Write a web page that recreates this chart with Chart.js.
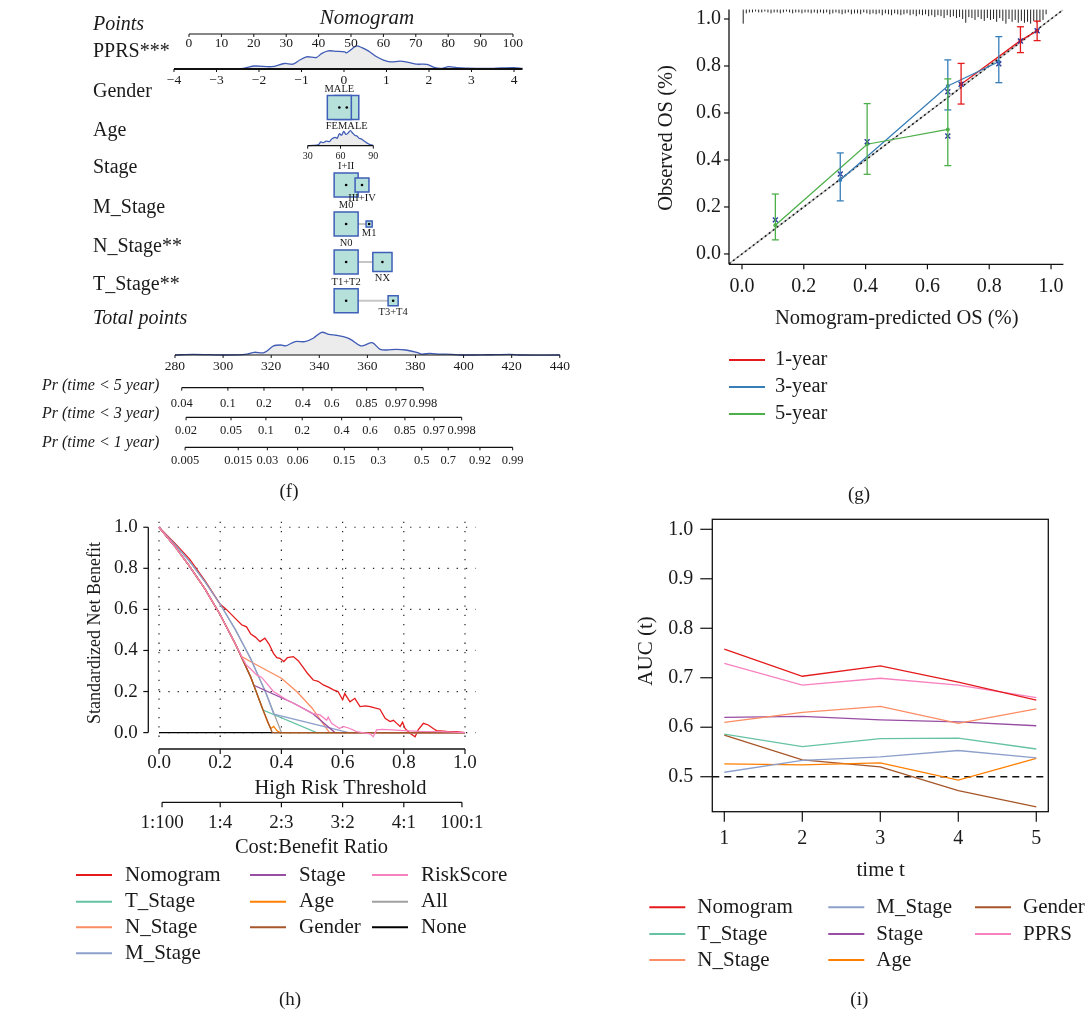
<!DOCTYPE html>
<html>
<head>
<meta charset="utf-8">
<title>Nomogram, calibration, decision curve and time-dependent AUC</title>
<script src="https://cdn.jsdelivr.net/npm/chart.js@4.4.1/dist/chart.umd.min.js"></script>
<style>
  html, body { margin: 0; padding: 0; background: #fff; }
  #page { position: relative; width: 1091px; height: 1010px; overflow: hidden; }
  canvas { position: absolute; }
</style>
</head>
<body>
<div id="page">
  <canvas id="nomogram" width="580" height="505" style="left:0;top:0"></canvas>
  <canvas id="calibration" width="511" height="505" style="left:580px;top:0"></canvas>
  <canvas id="dca" width="580" height="505" style="left:0;top:505px"></canvas>
  <canvas id="auc" width="511" height="505" style="left:580px;top:505px"></canvas>
</div>
<script>
const FONT = '"Liberation Serif", "Times New Roman", serif';

// ---------- (f) nomogram data ----------
const pointsTicks = [0, 10, 20, 30, 40, 50, 60, 70, 80, 90, 100];
const pprsTicks = [-4, -3, -2, -1, 0, 1, 2, 3, 4];
const pprsDensX = [-4, -3.6, -3.2, -2.76, -2.37, -2.1, -1.7, -1.4, -1.2, -1.04, -0.88, -0.65, -0.53, -0.37, -0.17, 0.02, 0.06, 0.18, 0.29, 0.42, 0.57, 0.77, 0.93, 1.09, 1.32, 1.51, 1.71, 1.95, 2.14, 2.3, 2.46, 2.65, 3.12, 3.51, 3.98, 4.2];
const pprsDensY = [0, 0.02, 0.01, 0, 0.03, 0.13, 0.1, 0.24, 0.21, 0.39, 0.53, 0.5, 0.67, 0.79, 0.77, 0.74, 0.7, 0.86, 1.0, 0.93, 0.79, 0.53, 0.39, 0.31, 0.34, 0.29, 0.21, 0.2, 0.06, 0.03, 0.1, 0.06, 0.03, 0.03, 0.06, 0.03];
const ageTicks = [30, 60, 90];
const ageDensX = [30, 35, 40, 42, 44, 47, 50, 52, 55, 57, 59, 61, 63, 65, 67, 69, 71, 73, 75, 77, 79, 81, 83, 85, 87, 90];
const ageDensY = [0, 0.02, 0.08, 0.25, 0.2, 0.3, 0.28, 0.45, 0.55, 0.5, 0.8, 0.7, 0.95, 0.75, 0.85, 1.0, 0.85, 0.7, 0.65, 0.5, 0.45, 0.35, 0.25, 0.15, 0.08, 0.02];
const genderLevels = ['MALE', 'FEMALE'];
const genderPoints = [46.4, 48.7];
const genderShare = [0.5, 0.5];
const stageLevels = ['I+II', 'III+IV'];
const stagePoints = [48.5, 53.4];
const stageShare = [0.75, 0.25];
const mStageLevels = ['M0', 'M1'];
const mStagePoints = [48.5, 55.6];
const mStageShare = [0.94, 0.06];
const nStageLevels = ['N0', 'NX'];
const nStagePoints = [48.5, 59.7];
const nStageShare = [0.61, 0.39];
const tStageLevels = ['T1+T2', 'T3+T4'];
const tStagePoints = [48.5, 63.0];
const tStageShare = [0.85, 0.15];
const totalTicks = [280, 300, 320, 340, 360, 380, 400, 420, 440];
const totalDensX = [280, 287.6, 301, 310, 313, 317, 321, 324, 326, 330, 334, 337.5, 341, 344, 347, 350, 353, 357, 359, 362, 365.3, 368, 372, 376, 380.5, 382.6, 386, 390, 395, 398.5, 410, 419.3, 423, 440];
const totalDensY = [0, 0.03, 0, 0.04, 0.12, 0.1, 0.4, 0.44, 0.4, 0.59, 0.59, 0.74, 1.0, 0.91, 0.87, 0.81, 0.69, 0.41, 0.44, 0.54, 0.25, 0.22, 0.25, 0.22, 0.12, 0.04, 0.07, 0.04, 0.03, 0, 0.01, 0.03, 0, 0];
const pr5Labels = ['0.04', '0.1', '0.2', '0.4', '0.6', '0.85', '0.97', '0.998'];
const pr5Total = [282.8, 302.0, 317.0, 333.2, 345.2, 359.7, 371.9, 383.2];
const pr3Labels = ['0.02', '0.05', '0.1', '0.2', '0.4', '0.6', '0.85', '0.97', '0.998'];
const pr3Total = [284.6, 303.3, 317.8, 332.9, 349.3, 361.1, 375.6, 387.7, 399.2];
const pr1Labels = ['0.005', '0.015', '0.03', '0.06', '0.15', '0.3', '0.5', '0.7', '0.92', '0.99'];
const pr1Total = [284.2, 306.3, 318.4, 331.0, 350.4, 364.5, 382.6, 393.6, 406.8, 420.4];

// ---------- (g) calibration data ----------
const cal1Pred = [0.709, 0.901, 0.955];
const cal1Obs = [0.722, 0.908, 0.950];
const cal1Low = [0.638, 0.857, 0.908];
const cal1High = [0.811, 0.967, 0.991];
const cal1Corr = [0.722, 0.906, 0.950];
const cal3Pred = [0.318, 0.666, 0.831];
const cal3Obs = [0.315, 0.715, 0.818];
const cal3Low = [0.226, 0.613, 0.729];
const cal3High = [0.430, 0.826, 0.925];
const cal3Corr = [0.340, 0.690, 0.809];
const cal5Pred = [0.108, 0.405, 0.666];
const cal5Obs = [0.122, 0.467, 0.530];
const cal5Low = [0.060, 0.339, 0.376];
const cal5High = [0.255, 0.640, 0.745];
const cal5Corr = [0.145, 0.478, 0.502];
const calTicks = [0, 0.2, 0.4, 0.6, 0.8, 1.0];
// predicted-risk histogram along the top, bins of 0.01 from 0.00
const rugCounts = [14, 3, 2, 2, 1, 2, 2, 1, 2, 3, 2, 2, 3, 2, 1, 2, 3, 2, 2, 3, 2, 2, 3, 2, 3, 2, 3, 2, 4, 3,
  2, 3, 4, 3, 2, 4, 3, 3, 4, 2, 3, 4, 3, 4, 3, 5, 3, 4, 5, 3, 4, 5, 4, 3, 5, 4, 6, 4, 5, 4,
  6, 5, 7, 5, 6, 8, 5, 7, 6, 8, 7, 9, 13, 7, 8, 10, 7, 9, 11, 8, 10, 9, 12, 8, 11, 14, 9, 12, 10, 13,
  11, 13, 12, 14, 11, 13, 12, 10, 4];

// ---------- (h) decision curve data ----------
const dcaTicks = [0, 0.2, 0.4, 0.6, 0.8, 1.0];
const costBenefitAt = [0.01, 0.2, 0.4, 0.6, 0.8, 0.99];
const costBenefitLabels = ['1:100', '1:4', '2:3', '3:2', '4:1', '100:1'];
const nomoT = [0, 0.05, 0.1, 0.15, 0.2, 0.22, 0.25, 0.27, 0.286, 0.3, 0.315, 0.33, 0.346, 0.36, 0.374, 0.385, 0.395, 0.408, 0.42, 0.439, 0.455, 0.47, 0.485, 0.504, 0.52, 0.537, 0.555, 0.57, 0.585, 0.6, 0.607, 0.624, 0.64, 0.657, 0.675, 0.69, 0.705, 0.722, 0.739, 0.755, 0.766, 0.777, 0.788, 0.796, 0.804, 0.82, 0.837, 0.847, 0.864, 0.88, 0.896, 0.907, 0.94, 0.973, 1.0];
const nomoNB = [1, 0.925, 0.845, 0.74, 0.625, 0.6, 0.555, 0.525, 0.515, 0.48, 0.465, 0.443, 0.46, 0.43, 0.386, 0.365, 0.362, 0.346, 0.365, 0.37, 0.35, 0.32, 0.289, 0.256, 0.25, 0.232, 0.22, 0.208, 0.2, 0.16, 0.19, 0.15, 0.167, 0.127, 0.13, 0.127, 0.12, 0.114, 0.07, 0.054, 0.06, 0.045, 0.03, 0.05, 0.02, -0.003, -0.02, 0.013, 0.045, 0.037, 0.02, 0.01, 0.006, 0.005, 0];
const tStageT = [0, 0.05, 0.1, 0.15, 0.2, 0.25, 0.3, 0.34, 0.515, 1.0];
const tStageNB = [1, 0.91, 0.81, 0.70, 0.574, 0.43, 0.27, 0.11, 0, 0];
const nStageT = [0, 0.05, 0.1, 0.15, 0.2, 0.25, 0.27, 0.3, 0.35, 0.4, 0.45, 0.5, 0.557, 1.0];
const nStageNB = [1, 0.91, 0.81, 0.70, 0.574, 0.43, 0.37, 0.345, 0.305, 0.265, 0.2, 0.12, 0, 0];
const mStageT = [0, 0.05, 0.1, 0.15, 0.2, 0.25, 0.3, 0.35, 0.375, 0.62, 1.0];
const mStageNB = [1, 0.92, 0.835, 0.735, 0.625, 0.5, 0.36, 0.19, 0.09, 0, 0];
const stageT = [0, 0.05, 0.1, 0.15, 0.2, 0.25, 0.3, 0.31, 0.44, 0.5, 0.575, 1.0];
const stageNB = [1, 0.91, 0.81, 0.70, 0.574, 0.43, 0.27, 0.23, 0.143, 0.095, 0, 0];
const ageT = [0, 0.05, 0.1, 0.15, 0.2, 0.25, 0.3, 0.34, 0.355, 0.365, 0.375, 0.385, 0.395, 1.0];
const ageNB = [1, 0.91, 0.81, 0.70, 0.574, 0.43, 0.27, 0.11, 0.05, 0.02, 0.03, 0.01, 0, 0];
const genderT = [0, 0.05, 0.1, 0.15, 0.2, 0.25, 0.3, 0.34, 0.37, 1.0];
const genderNB = [1, 0.91, 0.81, 0.70, 0.574, 0.43, 0.27, 0.11, 0, 0];
const riskT = [0, 0.05, 0.1, 0.15, 0.2, 0.25, 0.27, 0.285, 0.303, 0.32, 0.335, 0.352, 0.374, 0.395, 0.417, 0.439, 0.45, 0.46, 0.48, 0.5, 0.526, 0.548, 0.553, 0.564, 0.58, 0.59, 0.602, 0.624, 0.646, 0.665, 0.69, 0.7, 0.711, 0.73, 0.76, 0.8, 0.85, 0.92, 1.0];
const riskNB = [1, 0.91, 0.81, 0.70, 0.574, 0.43, 0.37, 0.33, 0.305, 0.28, 0.27, 0.24, 0.2, 0.18, 0.16, 0.143, 0.135, 0.127, 0.11, 0.094, 0.086, 0.06, 0.075, 0.045, 0.03, 0.02, 0.03, 0.02, 0.005, 0, -0.006, -0.02, 0.013, 0.016, 0.013, 0.01, 0.006, 0.005, 0];
const allT = [0, 0.05, 0.1, 0.15, 0.2, 0.25, 0.3, 0.35, 0.4];
const allNB = [1, 0.921, 0.833, 0.735, 0.625, 0.5, 0.357, 0.192, 0];
const noneT = [0, 1];
const noneNB = [0, 0];

// ---------- (i) time-dependent AUC data ----------
const aucTimes = [1, 2, 3, 4, 5];
const aucTicks = [0.5, 0.6, 0.7, 0.8, 0.9, 1.0];
const aucNomogram = [0.758, 0.703, 0.724, 0.691, 0.655];
const aucTStage = [0.586, 0.561, 0.577, 0.578, 0.556];
const aucNStage = [0.610, 0.630, 0.642, 0.608, 0.637];
const aucMStage = [0.509, 0.533, 0.540, 0.553, 0.538];
const aucStage = [0.620, 0.622, 0.615, 0.611, 0.603];
const aucAge = [0.526, 0.524, 0.528, 0.493, 0.537];
const aucGender = [0.584, 0.534, 0.520, 0.472, 0.439];
const aucPPRS = [0.729, 0.685, 0.699, 0.685, 0.660];
const aucChance = 0.5;

// ---------- colours ----------
const C = {
  nomogram: '#e41a1c', tStage: '#66c2a5', nStage: '#fc8d62', mStage: '#8da0cb',
  stage: '#984ea3', age: '#ff7f00', gender: '#a65628', pink: '#f781bf',
  all: '#a0a0a0', none: '#000000',
  y1: '#e41a1c', y3: '#377eb8', y5: '#4daf4a'
};

Chart.defaults.font.family = FONT;
Chart.defaults.animation = false;
Chart.defaults.responsive = false;
Chart.defaults.devicePixelRatio = 1;
Chart.defaults.events = [];
Chart.defaults.plugins.legend.display = false;
Chart.defaults.plugins.tooltip.enabled = false;

// ---------- drawing helpers ----------
function txt(ctx, s, x, y, size, opts = {}) {
  ctx.save();
  ctx.font = (opts.italic ? 'italic ' : '') + size + 'px ' + FONT;
  ctx.fillStyle = opts.color || '#1a1a1a';
  ctx.textAlign = opts.align || 'center';
  ctx.textBaseline = 'middle';
  if (opts.rotate) {
    ctx.translate(x, y);
    ctx.rotate(-Math.PI / 2);
    ctx.fillText(s, 0, 0);
  } else {
    ctx.fillText(s, x, y);
  }
  ctx.restore();
}

function seg(ctx, x1, y1, x2, y2, color, width, dash) {
  ctx.save();
  ctx.strokeStyle = color;
  ctx.lineWidth = width;
  ctx.setLineDash(dash || []);
  ctx.beginPath();
  ctx.moveTo(x1, y1);
  ctx.lineTo(x2, y2);
  ctx.stroke();
  ctx.restore();
}

function legend(ctx, items, size) {
  items.forEach(it => {
    seg(ctx, it.x, it.y, it.x + 36, it.y, it.color, 2);
    txt(ctx, it.label, it.x + it.gap, it.y, size, { align: 'left' });
  });
}

function hiddenScale(min, max, reverse) {
  return { type: 'linear', display: false, min: min, max: max, reverse: !!reverse };
}

const xy = (xs, ys) => xs.map((x, i) => ({ x: x, y: ys[i] }));

// ---------- (f) nomogram ----------
// where each nomogram axis sits on the Points scale
const pprsAxis = { v0: -4, p0: -4.63, v1: 4, p1: 100.31 };
const ageAxis = { v0: 30, p0: 36.64, v1: 90, p1: 56.88 };
const totalAxis = { v0: 280, p0: -4.32, v1: 440, p1: 114.44 };
const onAxis = (a, v) => a.p0 + (v - a.v0) * (a.p1 - a.p0) / (a.v1 - a.v0);

const nomoRows = [
  { levels: genderLevels, pts: genderPoints, share: genderShare, y: 107.5, leftOnTop: true },
  { levels: stageLevels, pts: stagePoints, share: stageShare, y: 185 },
  { levels: mStageLevels, pts: mStagePoints, share: mStageShare, y: 224 },
  { levels: nStageLevels, pts: nStagePoints, share: nStageShare, y: 262 },
  { levels: tStageLevels, pts: tStagePoints, share: tStageShare, y: 300.7 }
];
nomoRows.forEach(r => {
  const maxS = Math.max(...r.share);
  r.sides = r.share.map(s => 24 * Math.sqrt(s / maxS));
});

const nomoLabels = [
  { text: 'Points', y: 25, italic: true },
  { text: 'PPRS***', y: 52 },
  { text: 'Gender', y: 92 },
  { text: 'Age', y: 131 },
  { text: 'Stage', y: 168 },
  { text: 'M_Stage', y: 208 },
  { text: 'N_Stage**', y: 247 },
  { text: 'T_Stage**', y: 285 },
  { text: 'Total points', y: 319, italic: true }
];

function densityDataset(xs, dens, axis, base, height) {
  return {
    data: xs.map((v, i) => ({ x: onAxis(axis, v), y: base - dens[i] * height })),
    borderColor: '#3f5bb5', borderWidth: 1.3, backgroundColor: '#ececec',
    fill: { value: base }, pointRadius: 0, tension: 0.3, order: 3
  };
}

const nomoDatasets = [
  densityDataset(pprsDensX, pprsDensY, pprsAxis, 69, 23),
  densityDataset(ageDensX, ageDensY, ageAxis, 145.7, 15),
  densityDataset(totalDensX, totalDensY, totalAxis, 355, 22.7)
];
const centers = [];
nomoRows.forEach(r => {
  nomoDatasets.push({
    data: [{ x: r.pts[0], y: r.y }, { x: r.pts[1], y: r.y }],
    borderColor: '#c6c6c6', borderWidth: 2, pointRadius: 0, order: 2
  });
  let idx = r.pts.map((_, i) => i);
  if (r.leftOnTop) idx = idx.reverse();
  nomoDatasets.push({
    data: idx.map(i => ({ x: r.pts[i], y: r.y })),
    showLine: false, pointStyle: 'rect',
    pointRadius: idx.map(i => r.sides[i] / Math.SQRT2),
    pointBackgroundColor: '#b6e0da', pointBorderColor: '#3f5fb8', pointBorderWidth: 1.5,
    order: 1
  });
  r.pts.forEach(p => centers.push({ x: p, y: r.y }));
});
nomoDatasets.push({
  data: centers, showLine: false, pointRadius: 1.3,
  pointBackgroundColor: '#000', pointBorderWidth: 0, order: 0
});

function nomoAxis(ctx, xs, labels, y, labelDy, size, x0, x1, lw) {
  seg(ctx, x0 !== undefined ? x0 : xs[0], y, x1 !== undefined ? x1 : xs[xs.length - 1], y, '#111', lw || 1.2);
  xs.forEach((x, i) => {
    seg(ctx, x, y, x, y + 3, '#111', 1);
    txt(ctx, labels[i], x, y + labelDy, size);
  });
}

const nomogramDecor = {
  id: 'nomogramDecor',
  afterDatasetsDraw(chart) {
    const ctx = chart.ctx;
    const X = p => chart.scales.x.getPixelForValue(p);
    const Y = v => chart.scales.y.getPixelForValue(v);
    txt(ctx, 'Nomogram', 367, 18, 21, { italic: true });
    nomoLabels.forEach(r => txt(ctx, r.text, 93, r.y, 20, { align: 'left', italic: r.italic }));

    nomoAxis(ctx, pointsTicks.map(X), pointsTicks.map(String), Y(34), 9.5, 13.5);
    nomoAxis(ctx, pprsTicks.map(v => X(onAxis(pprsAxis, v))),
      pprsTicks.map(v => (v < 0 ? '\u2212' + Math.abs(v) : String(v))), Y(69), 11, 13.5,
      X(onAxis(pprsAxis, -4)), X(onAxis(pprsAxis, 4.2)), 2);
    nomoAxis(ctx, ageTicks.map(v => X(onAxis(ageAxis, v))), ageTicks.map(String), Y(145.7), 10.5, 10);
    nomoAxis(ctx, totalTicks.map(v => X(onAxis(totalAxis, v))), totalTicks.map(String), Y(355), 11, 13.5);

    nomoRows.forEach(r => {
      txt(ctx, r.levels[0], X(r.pts[0]), Y(r.y) - r.sides[0] / 2 - 6.5, 10.5);
      txt(ctx, r.levels[1], X(r.pts[1]), Y(r.y) + r.sides[1] / 2 + 6.5, 10.5);
    });

    const prRows = [
      { label: 'Pr (time < 5 year)', at: pr5Total, ticks: pr5Labels, y: 387.7, ly: 386, dy: 16 },
      { label: 'Pr (time < 3 year)', at: pr3Total, ticks: pr3Labels, y: 417.3, ly: 414, dy: 13 },
      { label: 'Pr (time < 1 year)', at: pr1Total, ticks: pr1Labels, y: 447.3, ly: 443, dy: 13 }
    ];
    prRows.forEach(r => {
      txt(ctx, r.label, 42, r.ly, 16, { align: 'left', italic: true });
      nomoAxis(ctx, r.at.map(t => X(onAxis(totalAxis, t))), r.ticks, Y(r.y), r.dy, 12.5);
    });
    txt(ctx, '(f)', 289, 492, 19);
  }
};

new Chart(document.getElementById('nomogram'), {
  type: 'line',
  data: { datasets: nomoDatasets },
  options: {
    layout: { padding: 0, autoPadding: false },
    scales: { x: hiddenScale(-58.33, 120.68), y: hiddenScale(0, 505, true) }
  },
  plugins: [nomogramDecor]
});

// ---------- (g) calibration ----------
const calSeries = [
  { label: '1-year', color: C.y1, pred: cal1Pred, obs: cal1Obs, lo: cal1Low, hi: cal1High, corr: cal1Corr },
  { label: '3-year', color: C.y3, pred: cal3Pred, obs: cal3Obs, lo: cal3Low, hi: cal3High, corr: cal3Corr },
  { label: '5-year', color: C.y5, pred: cal5Pred, obs: cal5Obs, lo: cal5Low, hi: cal5High, corr: cal5Corr }
];
const calDatasets = [
  { data: xy([-0.042, 1.04], [-0.042, 1.04]), borderColor: '#c4c4c4', borderWidth: 1.6, pointRadius: 0, order: 6 },
  { data: xy([-0.042, 1.04], [-0.042, 1.04]), borderColor: '#111', borderWidth: 1.4, borderDash: [2, 3], pointRadius: 0, order: 5 }
];
calSeries.forEach((s, k) => {
  calDatasets.push({
    data: xy(s.pred, s.obs), borderColor: s.color, borderWidth: 1.3,
    pointRadius: 2, pointBackgroundColor: s.color, pointBorderWidth: 0, order: 3 - k
  });
  calDatasets.push({
    data: xy(s.pred, s.corr), showLine: false, pointStyle: 'crossRot', pointRadius: 3.5,
    pointBorderColor: '#2b3a9e', pointBorderWidth: 1.4, order: 0
  });
});

const calibrationDecor = {
  id: 'calibrationDecor',
  beforeDatasetsDraw(chart) {
    const ctx = chart.ctx, xs = chart.scales.x, ys = chart.scales.y;
    const top = ys.getPixelForValue(1.04);
    rugCounts.forEach((n, i) => {
      const x = xs.getPixelForValue(i * 0.01 + 0.004);
      const y = ys.getPixelForValue(1.04 - 0.004 - n * 0.004);
      seg(ctx, x, top, x, y, '#222', 1);
    });
  },
  afterDatasetsDraw(chart) {
    const ctx = chart.ctx, xs = chart.scales.x, ys = chart.scales.y;
    calSeries.forEach(s => {
      s.pred.forEach((p, i) => {
        const x = xs.getPixelForValue(p);
        const y0 = ys.getPixelForValue(s.lo[i]), y1 = ys.getPixelForValue(s.hi[i]);
        seg(ctx, x, y0, x, y1, s.color, 1.3);
        seg(ctx, x - 3.5, y0, x + 3.5, y0, s.color, 1.3);
        seg(ctx, x - 3.5, y1, x + 3.5, y1, s.color, 1.3);
      });
    });
  },
  afterDraw(chart) {
    const ctx = chart.ctx, a = chart.chartArea, xs = chart.scales.x, ys = chart.scales.y;
    seg(ctx, a.left, a.top, a.left, a.bottom, '#111', 1.3);
    seg(ctx, a.left, a.bottom, a.right, a.bottom, '#111', 1.3);
    calTicks.forEach(v => {
      const y = ys.getPixelForValue(v), x = xs.getPixelForValue(v);
      seg(ctx, a.left, y, a.left - 5, y, '#111', 1.2);
      txt(ctx, v.toFixed(1), 141, y, 20, { align: 'right' });
      seg(ctx, x, a.bottom, x, a.bottom + 5, '#111', 1.2);
      txt(ctx, v.toFixed(1), x, 286.7, 20);
    });
    txt(ctx, 'Observed OS (%)', 86.7, 138, 20.5, { rotate: true });
    txt(ctx, 'Nomogram-predicted OS (%)', 316.7, 318.3, 20.5);
    legend(ctx, calSeries.map((s, k) => ({ x: 149, y: 360 + k * 27, color: s.color, label: s.label, gap: 46 })), 20.5);
    txt(ctx, '(g)', 279, 495, 19);
  }
};

new Chart(document.getElementById('calibration'), {
  type: 'line',
  data: { datasets: calDatasets },
  options: {
    layout: { padding: { left: 149, right: 27.6, top: 9.6, bottom: 240.7 }, autoPadding: false },
    scales: { x: hiddenScale(-0.042, 1.04), y: hiddenScale(-0.044, 1.04) }
  },
  plugins: [calibrationDecor]
});

// ---------- (h) decision curves ----------
const dcaSeries = [
  { label: 'Nomogram', color: C.nomogram, t: nomoT, nb: nomoNB, order: 8 },
  { label: 'T_Stage', color: C.tStage, t: tStageT, nb: tStageNB, order: 7 },
  { label: 'N_Stage', color: C.nStage, t: nStageT, nb: nStageNB, order: 6 },
  { label: 'M_Stage', color: C.mStage, t: mStageT, nb: mStageNB, order: 5 },
  { label: 'Stage', color: C.stage, t: stageT, nb: stageNB, order: 4 },
  { label: 'Age', color: C.age, t: ageT, nb: ageNB, order: 3 },
  { label: 'Gender', color: C.gender, t: genderT, nb: genderNB, order: 2 },
  { label: 'RiskScore', color: C.pink, t: riskT, nb: riskNB, order: 1 },
  { label: 'All', color: C.all, t: allT, nb: allNB, order: 9 },
  { label: 'None', color: C.none, t: noneT, nb: noneNB, order: 10 }
];
const dcaLegendPos = [
  [76, 370], [76, 396.7], [76, 422.3], [76, 448.3],
  [250, 370], [250, 396.7], [250, 422.3],
  [372, 370], [372, 396.7], [372, 422.3]
];

const dcaDecor = {
  id: 'dcaDecor',
  beforeDatasetsDraw(chart) {
    const ctx = chart.ctx, a = chart.chartArea, xs = chart.scales.x, ys = chart.scales.y;
    dcaTicks.forEach(v => {
      const x = xs.getPixelForValue(v), y = ys.getPixelForValue(v);
      seg(ctx, x, a.top, x, a.bottom, '#222', 1.2, [1.3, 8]);
      seg(ctx, xs.getPixelForValue(0), y, a.right, y, '#222', 1.2, [1.3, 8]);
    });
  },
  afterDraw(chart) {
    const ctx = chart.ctx, xs = chart.scales.x, ys = chart.scales.y;
    const axX = chart.chartArea.left;
    seg(ctx, axX, ys.getPixelForValue(0), axX, ys.getPixelForValue(1), '#111', 1.3);
    const axY = 244;
    seg(ctx, xs.getPixelForValue(0), axY, xs.getPixelForValue(1), axY, '#111', 1.3);
    dcaTicks.forEach(v => {
      const y = ys.getPixelForValue(v), x = xs.getPixelForValue(v);
      seg(ctx, axX, y, axX - 5, y, '#111', 1.2);
      txt(ctx, v.toFixed(1), 137.7, y, 19, { align: 'right' });
      seg(ctx, x, axY, x, axY + 5, '#111', 1.2);
      txt(ctx, v.toFixed(1), x, 258.3, 19);
    });
    txt(ctx, 'High Risk Threshold', 340.5, 284, 20.5);
    const cbY = 297.3;
    seg(ctx, xs.getPixelForValue(costBenefitAt[0]), cbY, xs.getPixelForValue(costBenefitAt[costBenefitAt.length - 1]), cbY, '#111', 1.3);
    costBenefitAt.forEach((v, i) => {
      const x = xs.getPixelForValue(v);
      seg(ctx, x, cbY, x, cbY + 5, '#111', 1.2);
      txt(ctx, costBenefitLabels[i], x, 318.3, 19);
    });
    txt(ctx, 'Cost:Benefit Ratio', 311.5, 343, 20.5);
    txt(ctx, 'Standardized Net Benefit', 95, 128, 18, { rotate: true });
    legend(ctx, dcaSeries.map((s, k) => ({ x: dcaLegendPos[k][0], y: dcaLegendPos[k][1], color: s.color, label: s.label, gap: 49 })), 21);
    txt(ctx, '(h)', 290, 495, 19);
  }
};

new Chart(document.getElementById('dca'), {
  type: 'line',
  data: {
    datasets: dcaSeries.map(s => ({
      data: xy(s.t, s.nb), borderColor: s.color, borderWidth: 1.3,
      pointRadius: 0, order: s.order
    }))
  },
  options: {
    layout: { padding: { left: 148.3, right: 104.3, top: 16.7, bottom: 270 }, autoPadding: false },
    scales: { x: hiddenScale(-0.035, 1.035), y: hiddenScale(-0.036, 1.027) }
  },
  plugins: [dcaDecor]
});

// ---------- (i) time-dependent AUC ----------
const aucSeries = [
  { label: 'Nomogram', color: C.nomogram, v: aucNomogram },
  { label: 'T_Stage', color: C.tStage, v: aucTStage },
  { label: 'N_Stage', color: C.nStage, v: aucNStage },
  { label: 'M_Stage', color: C.mStage, v: aucMStage },
  { label: 'Stage', color: C.stage, v: aucStage },
  { label: 'Age', color: C.age, v: aucAge },
  { label: 'Gender', color: C.gender, v: aucGender },
  { label: 'PPRS', color: C.pink, v: aucPPRS }
];
const aucLegendPos = [
  [69.3, 402.3], [69.3, 429], [69.3, 455],
  [248.3, 402.3], [248.3, 429], [248.3, 455],
  [395, 402.3], [395, 429]
];

const aucDecor = {
  id: 'aucDecor',
  afterDraw(chart) {
    const ctx = chart.ctx, a = chart.chartArea, xs = chart.scales.x, ys = chart.scales.y;
    ctx.save();
    ctx.strokeStyle = '#111';
    ctx.lineWidth = 1.3;
    ctx.strokeRect(a.left, a.top, a.right - a.left, a.bottom - a.top);
    ctx.restore();
    aucTicks.forEach(v => {
      const y = ys.getPixelForValue(v);
      seg(ctx, a.left, y, a.left - 12, y, '#111', 1.2);
      txt(ctx, v.toFixed(1), 113.3, y, 20, { align: 'right' });
    });
    aucTimes.forEach(t => {
      const x = xs.getPixelForValue(t);
      seg(ctx, x, a.bottom, x, a.bottom + 10, '#111', 1.2);
      txt(ctx, String(t), x, 333.3, 20);
    });
    txt(ctx, 'time t', 300.7, 365, 21);
    txt(ctx, 'AUC (t)', 66, 146, 21, { rotate: true });
    legend(ctx, aucSeries.map((s, k) => ({ x: aucLegendPos[k][0], y: aucLegendPos[k][1], color: s.color, label: s.label, gap: 48 })), 21);
    txt(ctx, '(i)', 279.3, 495, 19);
  }
};

const aucDatasets = aucSeries.map(s => ({
  data: xy(aucTimes, s.v), borderColor: s.color, borderWidth: 1.3, pointRadius: 0
}));
aucDatasets.push({
  data: xy([0.846, 5.154], [aucChance, aucChance]), borderColor: '#111', borderWidth: 1.4,
  borderDash: [7, 5], pointRadius: 0
});

new Chart(document.getElementById('auc'), {
  type: 'line',
  data: { datasets: aucDatasets },
  options: {
    layout: { padding: { left: 132.3, right: 42.7, top: 14.3, bottom: 198.3 }, autoPadding: false },
    scales: { x: hiddenScale(0.846, 5.154), y: hiddenScale(0.4293, 1.0202) }
  },
  plugins: [aucDecor]
});
</script>
</body>
</html>
